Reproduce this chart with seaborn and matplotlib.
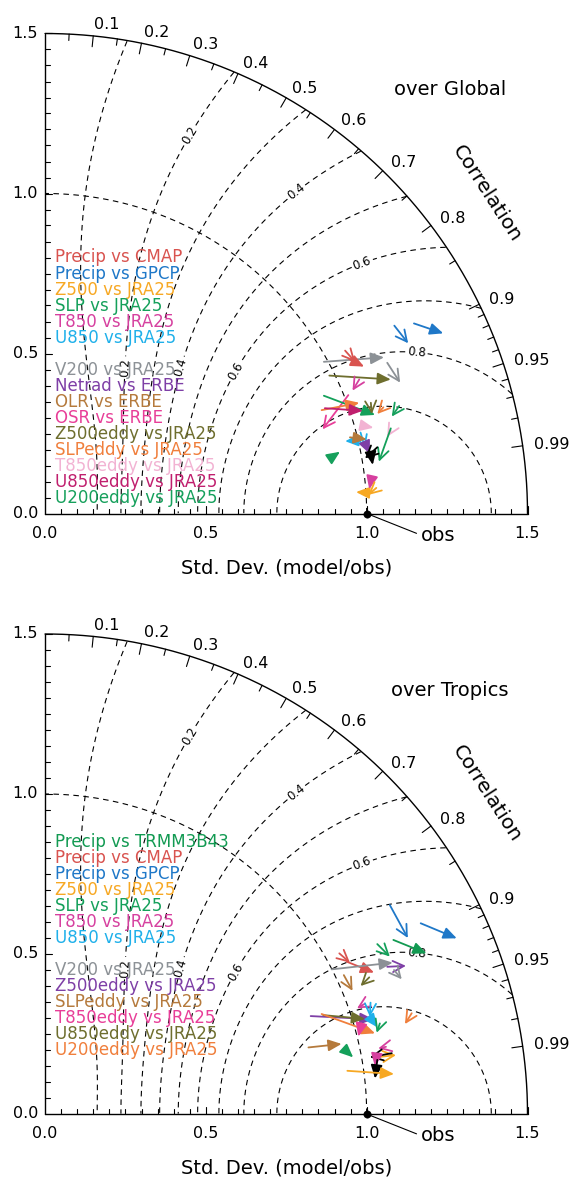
import numpy as np
import matplotlib
matplotlib.use("Agg")
import matplotlib.pyplot as plt
import seaborn as sns
import pandas as pd

sns.set_theme(style="white")
plt.rcParams['font.family'] = ['DejaVu Sans']
plt.rcParams['text.color'] = 'black'

# ---------------- data ----------------
corr_major = [0.1, 0.2, 0.3, 0.4, 0.5, 0.6, 0.7, 0.8, 0.9, 0.95, 0.99]
corr_minor = [0.05, 0.15, 0.25, 0.35, 0.45, 0.55, 0.65, 0.75, 0.85,
              0.91, 0.92, 0.93, 0.94, 0.96, 0.97, 0.98]
sd_ticks = [0.0, 0.5, 1.0, 1.5]
skill_unlabeled = [0.1, 0.3, 0.5, 0.7, 0.9]
skill_labeled = [0.2, 0.4, 0.6, 0.8]

global_labels = ["Precip vs CMAP", "Precip vs GPCP", "Z500 vs JRA25", "SLP vs JRA25",
                 "T850 vs JRA25", "U850 vs JRA25", "", "V200 vs JRA25", "Netrad vs ERBE",
                 "OLR vs ERBE", "OSR vs ERBE", "Z500eddy vs JRA25", "SLPeddy vs JRA25",
                 "T850eddy vs JRA25", "U850eddy vs JRA25", "U200eddy vs JRA25"]
global_keys = ["CMAP", "GPCP", "Z500", "SLP", "T850", "U850", "", "V200", "Netrad",
               "OLR", "OSR", "Z500eddy", "SLPeddy", "T850eddy", "U850eddy", "U200eddy"]
global_colors = {"CMAP": "#d9534f", "GPCP": "#1f78c8", "Z500": "#f7a823", "SLP": "#14a05a",
                 "T850": "#d6409f", "U850": "#1fb0ea", "V200": "#8c9196", "Netrad": "#7e3fa6",
                 "OLR": "#b57a3c", "OSR": "#e83e98", "Z500eddy": "#6e6e2e", "SLPeddy": "#f07f3c",
                 "T850eddy": "#f2b3d3", "U850eddy": "#c01f6e", "U200eddy": "#16a05c",
                 "other": "#000000"}

tropics_labels = ["Precip vs TRMM3B43", "Precip vs CMAP", "Precip vs GPCP", "Z500 vs JRA25",
                  "SLP vs JRA25", "T850 vs JRA25", "U850 vs JRA25", "", "V200 vs JRA25",
                  "Z500eddy vs JRA25", "SLPeddy vs JRA25", "T850eddy vs JRA25",
                  "U850eddy vs JRA25", "U200eddy vs JRA25"]
tropics_keys = ["TRMM", "CMAP", "GPCP", "Z500", "SLP", "T850", "U850", "", "V200",
                "Z500eddy", "SLPeddy", "T850eddy", "U850eddy", "U200eddy"]
tropics_colors = {"TRMM": "#129a52", "CMAP": "#d9534f", "GPCP": "#1f78c8", "Z500": "#f7a823",
                  "SLP": "#14a05a", "T850": "#d6409f", "U850": "#1fb0ea", "V200": "#8c9196",
                  "Z500eddy": "#7e3fa6", "SLPeddy": "#b57a3c", "T850eddy": "#e83e98",
                  "U850eddy": "#6e6e2e", "U200eddy": "#f07f3c", "other": "#000000"}

# arrows: start (x0,y0) -> end (x1,y1) in normalised std-dev coordinates
g_var = ["GPCP", "GPCP", "V200", "V200", "CMAP", "CMAP", "Z500eddy", "T850", "OSR", "SLP",
         "SLPeddy", "U850eddy", "SLPeddy", "Z500eddy", "U200eddy", "T850eddy", "T850eddy",
         "SLP", "U200eddy", "U850", "U850", "OLR", "Netrad", "other", "other", "Z500",
         "T850", "Z500"]
g_head = ["F", "O", "F", "O", "O", "F", "F", "O", "O", "F",
          "F", "F", "O", "O", "O", "F", "O",
          "O", "F", "F", "O", "F", "F", "O", "F", "F",
          "F", "O"]
g_x0 = [1.147, 1.086, 0.867, 1.064, 0.933, 0.946, 0.884, 0.977, 0.943, 0.867,
        0.860, 0.870, 1.052, 1.013, 1.101, 0.995, 1.075,
        1.075, 0.886, 0.969, 0.981, 0.948, 1.000, 1.033, 1.012, 1.000,
        1.012, 1.030]
g_y0 = [0.594, 0.587, 0.474, 0.471, 0.509, 0.482, 0.431, 0.419, 0.370, 0.368,
        0.323, 0.329, 0.332, 0.346, 0.336, 0.273, 0.259,
        0.266, 0.172, 0.228, 0.253, 0.238, 0.209, 0.207, 0.193, 0.065,
        0.094, 0.080]
g_x1 = [1.238, 1.129, 1.054, 1.104, 0.964, 0.992, 1.075, 0.956, 0.863, 1.026,
        0.977, 0.988, 1.033, 1.016, 1.078, 1.021, 1.064,
        1.038, 0.917, 0.933, 0.995, 1.000, 1.010, 0.995, 1.019, 0.967,
        1.008, 1.005]
g_y1 = [0.563, 0.532, 0.488, 0.409, 0.474, 0.459, 0.419, 0.384, 0.263, 0.308,
        0.346, 0.321, 0.311, 0.311, 0.303, 0.268, 0.240,
        0.162, 0.193, 0.226, 0.204, 0.232, 0.186, 0.172, 0.152, 0.067,
        0.076, 0.058]

t_var = ["GPCP", "GPCP", "TRMM", "SLP", "CMAP", "CMAP", "V200", "Z500eddy", "V200",
         "SLPeddy", "U850eddy", "T850", "U850", "Z500eddy", "U850eddy", "U200eddy",
         "U850", "SLP", "T850eddy", "U200eddy", "SLPeddy", "SLP", "T850", "Z500",
         "other", "T850", "other", "Z500"]
t_head = ["O", "F", "F", "O", "O", "F", "F", "O", "O",
          "O", "O", "O", "O", "F", "F", "F",
          "F", "O", "F", "O", "F", "F", "O", "O",
          "O", "F", "F", "F"]
t_x0 = [1.072, 1.168, 1.083, 1.033, 0.915, 0.938, 0.891, 1.064, 1.085,
        0.929, 1.008, 0.995, 1.012, 0.826, 0.865, 0.860,
        1.016, 1.041, 0.984, 1.140, 0.819, 0.933, 1.060, 1.026,
        1.078, 1.029, 1.033, 0.940]
t_y0 = [0.653, 0.596, 0.544, 0.531, 0.502, 0.476, 0.452, 0.460, 0.450,
        0.434, 0.427, 0.345, 0.348, 0.306, 0.309, 0.3125,
        0.294, 0.283, 0.283, 0.315, 0.208, 0.200, 0.210, 0.177,
        0.190, 0.169, 0.169, 0.135]
t_x1 = [1.128, 1.280, 1.186, 1.072, 0.948, 1.023, 1.081, 1.122, 1.109,
        0.956, 0.981, 0.970, 1.010, 1.021, 0.995, 1.026,
        1.033, 1.031, 0.974, 1.119, 0.922, 0.958, 1.036, 1.091,
        1.010, 1.026, 1.026, 1.085]
t_y1 = [0.550, 0.549, 0.502, 0.492, 0.473, 0.442, 0.473, 0.463, 0.421,
        0.385, 0.400, 0.330, 0.304, 0.296, 0.297, 0.252,
        0.271, 0.254, 0.242, 0.281, 0.219, 0.177, 0.205, 0.184,
        0.177, 0.148, 0.111, 0.125]

# ---------------- drawing ----------------
RMAX = 1.5
DASH = (0, (5, 4))


def draw_panel(ax, region, labels, keys, colors, var, head, x0, y0, x1, y1, leg_y0, leg_dy):
    ax.set_xlim(0, RMAX)
    ax.set_ylim(0, RMAX)
    ax.axis("off")

    # axes lines
    ax.plot([0, 0], [0, RMAX], color="black", lw=1.0, clip_on=False, zorder=3)
    ax.plot([0, RMAX], [0, 0], color="black", lw=1.0, clip_on=False, zorder=3)
    th = np.linspace(0, np.pi / 2, 300)
    arc = pd.DataFrame({"x": RMAX * np.cos(th), "y": RMAX * np.sin(th)})
    sns.lineplot(data=arc, x="x", y="y", sort=False, color="black", lw=1.0, ax=ax,
                 estimator=None, clip_on=False, zorder=3)

    # std-dev axis ticks (inward)
    for v in np.arange(0.05, RMAX + 1e-6, 0.05):
        L = 0.022 if abs(v / 0.5 - round(v / 0.5)) < 1e-6 else 0.015
        ax.plot([v, v], [0, L], color="black", lw=0.8, clip_on=False, zorder=3)
        ax.plot([0, L], [v, v], color="black", lw=0.8, clip_on=False, zorder=3)
    for v in sd_ticks:
        ax.text(v, -0.062, f"{v:.1f}", ha="center", va="center", fontsize=11.5)
        ax.text(-0.022, v, f"{v:.1f}", ha="right", va="center", fontsize=11.5)

    # correlation ticks and labels
    for r in corr_major + corr_minor:
        a = np.arccos(r)
        L = 0.034 if r in corr_major else 0.02
        ax.plot([(RMAX - L) * np.cos(a), RMAX * np.cos(a)],
                [(RMAX - L) * np.sin(a), RMAX * np.sin(a)],
                color="black", lw=0.8, clip_on=False, zorder=3)
    for r in corr_major:
        a = np.arccos(r)
        ax.text(1.535 * np.cos(a), 1.535 * np.sin(a), f"{r:g}", ha="left", va="center",
                fontsize=11.5)

    # reference std-dev arc
    th1 = np.linspace(0, np.pi / 2, 200)
    ax.plot(np.cos(th1), np.sin(th1), color="black", lw=0.8, ls=DASH, zorder=1)

    # skill score contours
    g = np.linspace(0.001, RMAX, 500)
    X, Y = np.meshgrid(g, g)
    S = np.hypot(X, Y)
    R = X / S
    SK = 4 * (1 + R) ** 4 / ((S + 1 / S) ** 2 * 16)
    SK = np.ma.masked_where(S > RMAX, SK)
    ax.contour(X, Y, SK, levels=skill_unlabeled, colors="black", linewidths=0.8,
               linestyles=[DASH], zorder=1)
    cs = ax.contour(X, Y, SK, levels=skill_labeled, colors="black", linewidths=0.8,
                    linestyles=[DASH], zorder=1)
    manual = [(0.248, 0.456), (0.424, 0.456), (0.582, 0.45),
              (0.40, 1.21), (0.78, 1.006), (0.984, 0.788), (1.155, 0.506)]
    ax.clabel(cs, manual=manual, inline=True, fontsize=8.5, fmt="%.1f", inline_spacing=2)

    # legend text
    for i, (lab, k) in enumerate(zip(labels, keys)):
        if lab:
            ax.text(0.031, leg_y0 - i * leg_dy, lab, color=colors[k], fontsize=12,
                    ha="left", va="center", zorder=5)

    # arrows
    for v, h, a0, b0, a1, b1 in zip(var, head, x0, y0, x1, y1):
        style = ("-|>,head_length=0.5,head_width=0.22" if h == "F"
                 else "->,head_length=0.5,head_width=0.25")
        ax.annotate("", xy=(a1, b1), xytext=(a0, b0),
                    arrowprops=dict(arrowstyle=style, color=colors[v], lw=1.3,
                                    shrinkA=0, shrinkB=0, mutation_scale=16),
                    zorder=6)

    # observation point
    sns.scatterplot(x=[1.0], y=[0.0], color="black", s=28, ax=ax, zorder=8,
                    clip_on=False, edgecolor="black")
    ax.plot([1.0, 1.155], [0.0, -0.062], color="black", lw=0.8, clip_on=False, zorder=7)
    ax.text(1.168, -0.068, "obs", ha="left", va="center", fontsize=14)

    ax.text(0.75, -0.17, "Std. Dev. (model/obs)", ha="center", va="center", fontsize=14)
    ax.text(1.258, 1.325, f"over {region}", ha="center", va="center", fontsize=14)
    ax.text(1.372, 1.0, "Correlation", ha="center", va="center", fontsize=14.5,
            rotation=-57)


fig = plt.figure(figsize=(5.7, 11.82), dpi=100)
W, H = 570.0, 1182.0
ax1 = fig.add_axes([45 / W, (H - 513.5) / H, 482.5 / W, 480 / H])
ax2 = fig.add_axes([45 / W, (H - 1114) / H, 482.5 / W, 480 / H])

draw_panel(ax1, "Global", global_labels, global_keys, global_colors,
           g_var, g_head, g_x0, g_y0, g_x1, g_y1, 0.80, 0.0502)
draw_panel(ax2, "Tropics", tropics_labels, tropics_keys, tropics_colors,
           t_var, t_head, t_x0, t_y0, t_x1, t_y1, 0.85, 0.050)

fig.savefig("out.png", dpi=100)
